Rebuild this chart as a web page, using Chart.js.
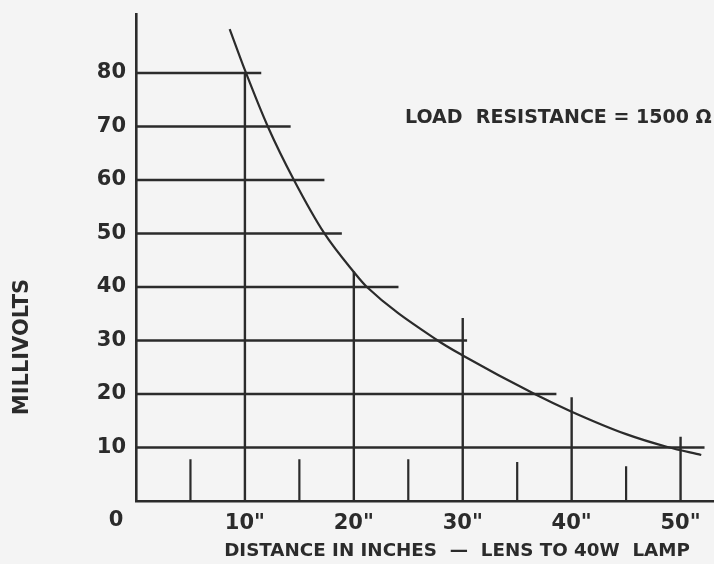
<!DOCTYPE html>
<html>
<head>
<meta charset="utf-8">
<script src="https://cdn.jsdelivr.net/npm/chart.js@4"></script>
<style>
  html, body { margin: 0; padding: 0; background: #f4f4f4; }
  #wrap { width: 714px; height: 564px; position: relative; }
</style>
</head>
<body>
<div id="wrap"><canvas id="c" width="714" height="564"></canvas></div>
<script>
// ---- data ----
const xTickValues = [10, 20, 30, 40, 50];
const yTickValues = [10, 20, 30, 40, 50, 60, 70, 80];
// curve: millivolts vs distance (inches)
const curveX = [8.6, 10.1, 12.1, 14.5, 17.3, 20, 21.2, 27.7, 30, 36.6, 40, 45, 48.8, 51.9];
const curveY = [88.2, 80, 70, 60, 50, 42.8, 40, 30, 27.2, 20, 16.7, 12.5, 10.1, 8.6];
// horizontal reference lines: level (mV) and how far right they reach (inches)
const hLineLevels = [10, 20, 30, 40, 50, 60, 70, 80];
const hLineEnds   = [52.2, 38.6, 30.4, 24.1, 18.9, 17.3, 14.2, 11.5];
// vertical reference lines at each 10": top value (mV)
const vLineX    = [10, 20, 30, 40, 50];
const vLineTops = [80, 42.9, 34.2, 19.4, 12.0];
// short marks at the 5" points: top value (mV)
const minorX    = [5, 15, 25, 35, 45];
const minorTops = [7.8, 7.8, 7.8, 7.3, 6.5];

const INK = '#2b2b2b';
const FONT = 'DejaVu Sans';

const datasets = [];
hLineLevels.forEach((lv, i) => datasets.push({
  data: [{x: 0, y: lv}, {x: hLineEnds[i], y: lv}],
  borderColor: INK, borderWidth: 2.4, pointRadius: 0, showLine: true
}));
vLineX.forEach((xv, i) => datasets.push({
  data: [{x: xv, y: 0}, {x: xv, y: vLineTops[i]}],
  borderColor: INK, borderWidth: 2.4, pointRadius: 0, showLine: true
}));
minorX.forEach((xv, i) => datasets.push({
  data: [{x: xv, y: 0}, {x: xv, y: minorTops[i]}],
  borderColor: INK, borderWidth: 2.2, pointRadius: 0, showLine: true
}));
datasets.push({
  data: curveX.map((x, i) => ({x, y: curveY[i]})),
  borderColor: INK, borderWidth: 2.2, pointRadius: 0, showLine: true,
  cubicInterpolationMode: 'monotone'
});

const textPlugin = {
  id: 'texts',
  afterDraw(chart) {
    const ctx = chart.ctx;
    const xs = chart.scales.x, ys = chart.scales.y;
    ctx.save();
    ctx.fillStyle = INK;
    // corner zero
    ctx.font = `bold 21px "${FONT}"`;
    ctx.textAlign = 'center';
    ctx.textBaseline = 'middle';
    ctx.fillText('0', xs.getPixelForValue(0) - 20, ys.bottom + 20);
    // annotation
    ctx.font = `bold 19px "${FONT}"`;
    ctx.textAlign = 'left';
    ctx.fillText('LOAD  RESISTANCE = 1500 Ω', 405, 118);
    // x title
    ctx.font = `bold 18.3px "${FONT}"`;
    ctx.textAlign = 'center';
    ctx.fillText('DISTANCE IN INCHES  —  LENS TO 40W  LAMP', 457, 551);
    // y title
    ctx.translate(23, 347);
    ctx.rotate(-Math.PI / 2);
    ctx.font = `bold 21px "${FONT}"`;
    ctx.fillText('MILLIVOLTS', 0, 0);
    ctx.restore();
  }
};

new Chart(document.getElementById('c'), {
  type: 'scatter',
  data: { datasets },
  options: {
    responsive: false,
    animation: false,
    layout: { padding: { top: 12, right: 0, left: 0, bottom: 0 } },
    plugins: { legend: { display: false }, tooltip: { enabled: false } },
    scales: {
      x: {
        type: 'linear', min: 0, max: 53.07,
        grid: { display: false },
        border: { display: true, color: INK, width: 2.6 },
        afterBuildTicks: s => { s.ticks = xTickValues.map(v => ({value: v})); },
        afterFit: s => { s.height = 63; },
        ticks: {
          color: INK, padding: 2,
          font: { family: FONT, size: 21, weight: 'bold' },
          callback: v => v + '"'
        }
      },
      y: {
        type: 'linear', min: 0, max: 90.9,
        grid: { display: false },
        border: { display: true, color: INK, width: 2.6 },
        afterBuildTicks: s => { s.ticks = yTickValues.map(v => ({value: v})); },
        afterFit: s => { s.width = 136; },
        ticks: {
          color: INK, padding: 2,
          font: { family: FONT, size: 21, weight: 'bold' }
        }
      }
    }
  },
  plugins: [textPlugin]
});
</script>
</body>
</html>
